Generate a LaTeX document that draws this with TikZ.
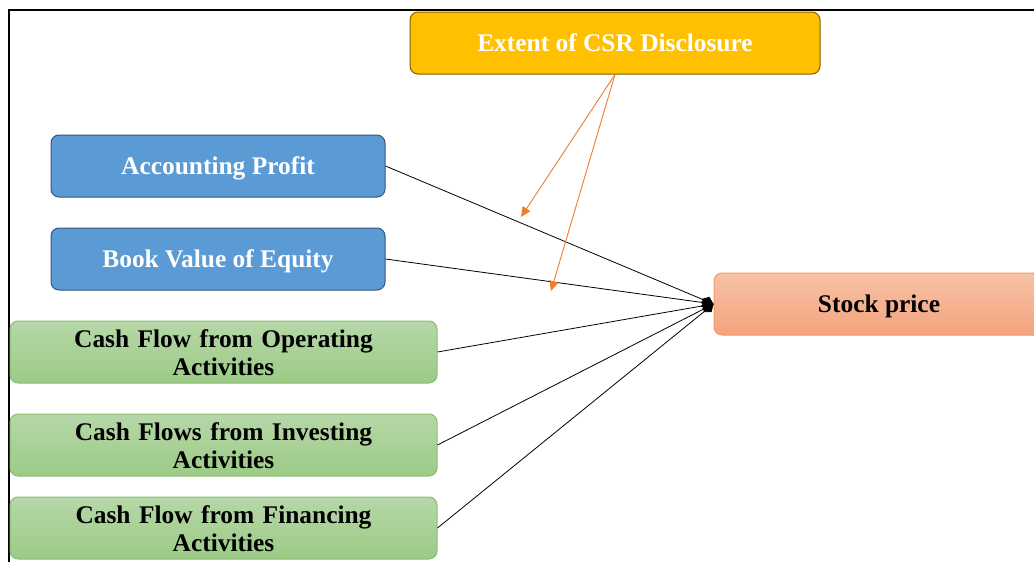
\documentclass[tikz,border=0pt]{standalone}
\usepackage{fontspec}
\setmainfont{Liberation Serif}
\usetikzlibrary{arrows.meta}
\definecolor{csrfill}{HTML}{FFC000}
\definecolor{csrline}{HTML}{7F6000}
\definecolor{bluefill}{HTML}{5B9BD5}
\definecolor{blueline}{HTML}{35577A}
\definecolor{greentop}{HTML}{B6D7A8}
\definecolor{greenbot}{HTML}{9CCB86}
\definecolor{greenline}{HTML}{8DBF6E}
\definecolor{orangetop}{HTML}{F7C1A6}
\definecolor{orangebot}{HTML}{F4A47D}
\definecolor{orangeline}{HTML}{F09A68}
\definecolor{csrarrow}{HTML}{ED7D31}
\tikzset{
  box/.style={rounded corners=8pt, inner sep=0pt, align=center,
    font=\fontsize{25.4}{28}\selectfont\bfseries, line width=1pt,
    text height=19pt, text depth=3pt},
  csrbox/.style={box, fill=csrfill, draw=csrline, text=white,
    minimum width=410pt, minimum height=62pt},
  bluebox/.style={box, fill=bluefill, draw=blueline, text=white,
    minimum width=334pt, minimum height=62pt},
  greenbox/.style={box, top color=greentop, bottom color=greenbot, draw=greenline,
    text=black, minimum width=427pt, minimum height=62pt, text width=410pt,
    text height=18pt, text depth=27pt},
  stockbox/.style={box, top color=orangetop, bottom color=orangebot, draw=orangeline,
    text=black, minimum width=330pt, minimum height=62pt},
  link/.style={draw=black, line width=0.8pt, -{Diamond[length=13pt,width=10pt]}},
  moderator/.style={draw=csrarrow, line width=0.9pt, -{Triangle[length=10pt,width=9pt]}}
}
\begin{document}
\begin{tikzpicture}[x=1pt,y=-1pt]
  \useasboundingbox (0,0) rectangle (1034,562);
  \clip (0,0) rectangle (1034,562);
  \fill[white] (0,0) rectangle (1034,562);
  % outer frame
  \draw[line width=2pt] (9,570) -- (9,10) -- (1040,10);

  \node[csrbox]   (csr)   at (615,43)    {Extent of CSR Disclosure};
  \node[bluebox]  (acct)  at (218,166)   {Accounting Profit};
  \node[bluebox]  (book)  at (218,259)   {Book Value of Equity};
  \node[greenbox] (cfo)   at (223.5,352) {Cash Flow from Operating\\Activities};
  \node[greenbox] (cfi)   at (223.5,445) {Cash Flows from Investing\\Activities};
  \node[greenbox] (cff)   at (223.5,528) {Cash Flow from Financing\\Activities};
  \node[stockbox] (stock) at (879,304)   {Stock price};

  % predictors to stock price
  \foreach \src in {acct,book,cfo,cfi,cff} \draw[link] (\src.east) -- (stock.west);

  % moderating effect of CSR disclosure
  \coordinate (modA) at (521,217);
  \coordinate (modB) at (551,291);
  \draw[moderator] (csr.south) -- (modA);
  \draw[moderator] (csr.south) -- (modB);
\end{tikzpicture}
\end{document}
